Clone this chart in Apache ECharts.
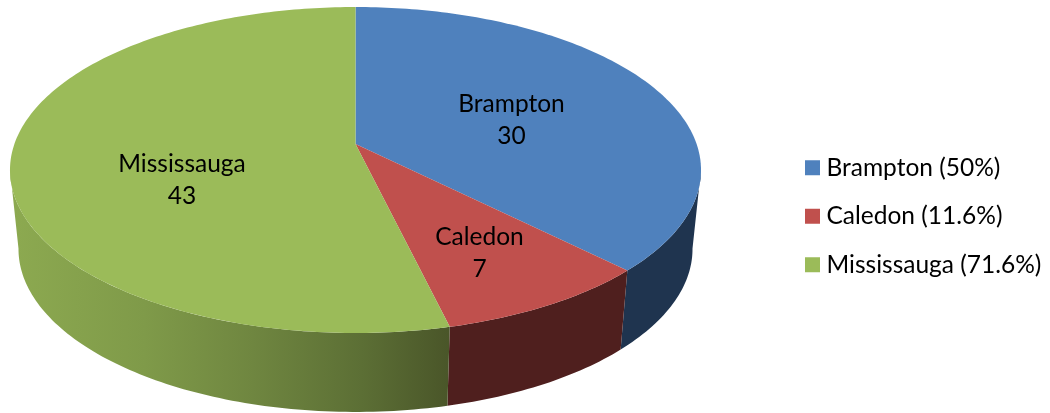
<!DOCTYPE html>
<html><head><meta charset="utf-8">
<style>html,body{margin:0;padding:0;background:#fff}#c{width:1050px;height:413px}</style>
<script src="https://cdn.jsdelivr.net/npm/echarts@6/dist/echarts.min.js"></script>
</head><body><div id="c"></div>
<script>
var categories = ['Brampton', 'Caledon', 'Mississauga'];
var values = [30, 7, 43];
var legendPercents = ['50%', '11.6%', '71.6%'];
var topColors = ['#4F81BD', '#C0504D', '#9BBB59'];
var labelAnchors = [[511.5, 120], [479.5, 253], [182, 180]];

var total = values.reduce(function (a, b) { return a + b; }, 0);
// perspective projection of the pie's two circular faces
var TOP = { cx: 355.5, cy: 144, R: 341.1, S: 158.85, k: 0.1595 };
var BOT = { cx: 355.5, cy: 223, R: 332.7, S: 158.8, k: 0.1595 };
var VIS_FROM = 99, VIS_TO = 261;
function proj(f, deg, r) {
  var a = deg * Math.PI / 180, X = Math.sin(a) * r, Y = Math.cos(a) * r, w = 1 + f.k * Y;
  return [f.cx + f.R * X / w, f.cy - f.S * Y / w];
}
function arc(f, from, to) {
  var pts = [], n = Math.max(2, Math.ceil(Math.abs(to - from)));
  for (var i = 0; i <= n; i++) pts.push(proj(f, from + (to - from) * i / n, 1));
  return pts;
}
var wallFills = [
  '#1F344F',
  '#4F1F1E',
  { type: 'linear', x: 15, y: 0, x2: 448, y2: 0, global: true, colorStops: [
    { offset: 0, color: '#8CA950' }, { offset: 0.3, color: '#7F9A49' },
    { offset: 0.55, color: '#6F8640' }, { offset: 0.8, color: '#5C6F35' }, { offset: 1, color: '#4A5629' }] }
];
function sliceSeries(idx) {
  var start = 0;
  for (var i = 0; i < idx; i++) start += values[i] / total * 360;
  var end = start + values[idx] / total * 360;
  return {
    type: 'custom', name: categories[idx], coordinateSystem: 'none',
    itemStyle: { color: topColors[idx] }, silent: true,
    data: [values[idx]],
    renderItem: function () {
      var children = [];
      var a = Math.max(start, VIS_FROM), b = Math.min(end, VIS_TO);
      if (b > a) {
        children.push({ type: 'polygon',
          shape: { points: arc(TOP, a, b).concat(arc(BOT, b, a)) },
          style: { fill: wallFills[idx], stroke: null } });
      }
      children.push({ type: 'polygon',
        shape: { points: [proj(TOP, 0, 0)].concat(arc(TOP, start, end)) },
        style: { fill: topColors[idx] } });
      children.push({ type: 'text', x: labelAnchors[idx][0], y: labelAnchors[idx][1], z2: 10,
        style: { text: categories[idx] + '\n' + values[idx], fill: '#000', align: 'center', verticalAlign: 'middle',
          font: '24.5px Lato', lineHeight: 32 } });
      return { type: 'group', children: children };
    }
  };
}
var chart = echarts.init(document.getElementById('c'), null, { renderer: 'canvas' });
chart.setOption({
  animation: false, backgroundColor: '#fff',
  legend: {
    orient: 'vertical', left: 800, top: 150.25, itemWidth: 15, itemHeight: 15, itemGap: 23.5, icon: 'rect',
    data: categories, selectedMode: false,
    formatter: function (n) { return n + ' (' + legendPercents[categories.indexOf(n)] + ')'; },
    textStyle: { fontFamily: 'Lato', fontSize: 24.5, color: '#000', lineHeight: 24.5, padding: [0, 0, 0, 1.5] }
  },
  series: [0, 1, 2].map(sliceSeries)
});
</script></body></html>
